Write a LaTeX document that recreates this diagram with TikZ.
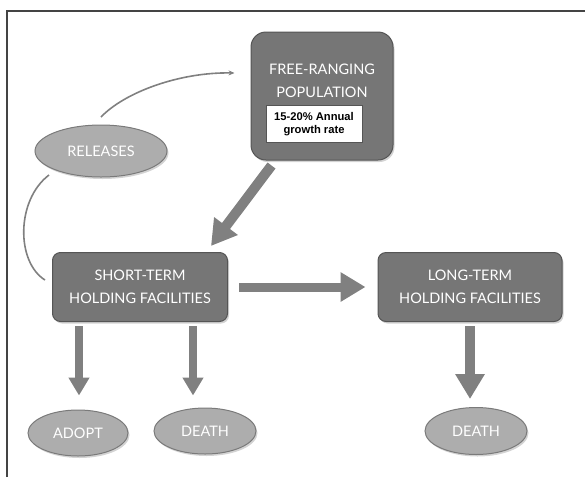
\documentclass[tikz,border=0pt]{standalone}
\usepackage{fontspec}
\setmainfont{Lato}
\newfontfamily\ratefont{Liberation Sans}
\usetikzlibrary{arrows.meta,shapes.geometric,shadows}
\definecolor{boxgray}{HTML}{767676}
\definecolor{boxedge}{HTML}{555555}
\definecolor{ovalgray}{HTML}{ADADAD}
\definecolor{ovaledge}{HTML}{7A7A7A}
\definecolor{arrowgray}{HTML}{808080}
\definecolor{framegray}{HTML}{444444}
\tikzset{
  softshadow/.style={drop shadow={shadow xshift=1.5pt,shadow yshift=-2pt,opacity=0.35}},
  holdbox/.style={draw=boxedge, fill=boxgray, line width=1pt, rounded corners=8pt,
    text=white, align=center, font=\fontsize{14.5}{23}\selectfont, softshadow},
  outcome/.style={ellipse, draw=ovaledge, fill=ovalgray, line width=1pt,
    text=white, font=\fontsize{14.5}{16}\selectfont, softshadow},
  ratebox/.style={fill=white, draw=boxedge, line width=0.4pt, align=center,
    minimum width=96pt, minimum height=37pt, inner sep=1pt,
    font=\ratefont\bfseries\fontsize{11.2}{13.5}\selectfont},
  flow/.style={draw=arrowgray, line width=8pt, -{Triangle[width=20pt,length=18pt]}},
  bigflow/.style={draw=arrowgray, line width=10pt, -{Triangle[width=28pt,length=25pt]}},
  thinflow/.style={draw=arrowgray, line width=1.6pt},
}
\begin{document}
\begin{tikzpicture}[x=1pt,y=-1pt]
  \useasboundingbox (0,0) rectangle (585,477);
  % frame (top and left only)
  \draw[framegray, line width=1.2pt] (7,477) -- (7,11) -- (585,11);

  % boxes
  \node[holdbox, rounded corners=15pt, minimum width=142pt, minimum height=128pt] (free) at (322,96) {};
  \node[text=white, align=center, font=\fontsize{14.5}{23}\selectfont] (freetext) at ([yshift=15pt]free.center) {FREE-RANGING\\POPULATION};
  \node[ratebox] (rate) at ([xshift=-8pt,yshift=-28pt]free.center) {15-20\% Annual\\growth rate};
  \node[holdbox, minimum width=175pt, minimum height=69pt] (short) at (140,287) {SHORT-TERM\\HOLDING FACILITIES};
  \node[holdbox, minimum width=184pt, minimum height=69pt] (long) at (470,287) {LONG-TERM\\HOLDING FACILITIES};

  % ovals
  \node[outcome, minimum width=132pt, minimum height=52pt] (releases) at (101,151) {RELEASES};
  \node[outcome, minimum width=100pt, minimum height=46pt] (adopt) at (78,433) {ADOPT};
  \node[outcome, minimum width=102pt, minimum height=46pt] (deathA) at (205,431) {DEATH};
  \node[outcome, minimum width=102pt, minimum height=47pt] (deathB) at (476,431) {DEATH};

  % thick arrows
  \draw[bigflow] ([xshift=21pt,yshift=-5pt]free.south west) -- ([xshift=-17pt,yshift=6pt]short.north east);
  \draw[bigflow, line width=9pt] (short.east) -- (long.west)
    [shorten <=11pt, shorten >=12pt];
  \draw[flow, shorten <=4pt, shorten >=14pt] ([xshift=1pt]short.south -| adopt) -- ([xshift=1pt]adopt.north);
  \draw[flow, shorten <=4pt, shorten >=12pt] ([xshift=-12pt]short.south -| deathA) -- ([xshift=-12pt]deathA.north);
  \draw[bigflow, shorten <=4pt, shorten >=8pt] (long.south) -- (long.south |- deathB.north);

  % thin curved arrows
  \draw[thinflow, -{Stealth[length=6pt,width=5pt]}] ([yshift=34pt]releases.center)
    .. controls (125,92) and (180,72) .. ([xshift=-16pt,yshift=23pt]free.west);
  \draw[thinflow] ([xshift=-7pt,yshift=7pt]short.west)
    .. controls (16,262) and (16,200) .. ([xshift=-52pt,yshift=-24pt]releases.center);
\end{tikzpicture}
\end{document}
